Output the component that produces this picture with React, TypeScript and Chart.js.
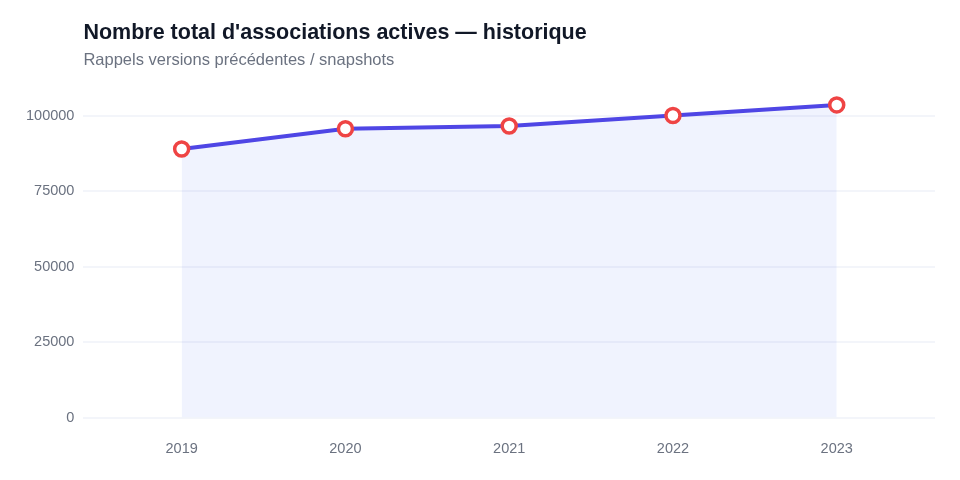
import React, { useEffect, useRef } from "react";
import { Chart, registerables } from "chart.js";

Chart.register(...registerables);

// Active associations, yearly snapshots
const years = [2019, 2020, 2021, 2022, 2023];
const totals = [89000, 95700, 96600, 100100, 103600];
const yTickValues = [0, 25000, 50000, 75000, 100000];

const FONT = "'Liberation Sans', Arial, Helvetica, sans-serif";

export default function App() {
  const canvasRef = useRef<HTMLCanvasElement | null>(null);

  useEffect(() => {
    if (!canvasRef.current) return;
    const chart = new Chart(canvasRef.current, {
      type: "line",
      data: {
        datasets: [
          {
            label: "Associations actives",
            data: years.map((y, i) => ({ x: y, y: totals[i] })),
            borderColor: "#4f46e5",
            borderWidth: 4,
            backgroundColor: "rgba(59,100,246,0.08)",
            fill: "origin",
            tension: 0,
            pointRadius: 7,
            pointHoverRadius: 7,
            pointBorderWidth: 3.5,
            pointBorderColor: "#ef4444",
            pointBackgroundColor: "#ffffff",
          },
        ],
      },
      options: {
        animation: false,
        responsive: false,
        maintainAspectRatio: false,
        layout: { padding: { top: 20, left: 17, right: 25, bottom: 7 } },
        plugins: {
          legend: { display: false },
          tooltip: { enabled: false },
          title: {
            display: true,
            text: "Nombre total d'associations actives — historique",
            align: "start",
            fullSize: false,
            color: "#111827",
            font: { family: FONT, size: 21.5, weight: "bold" },
            padding: { top: 0, bottom: 5 },
          },
          subtitle: {
            display: true,
            text: "Rappels versions précédentes / snapshots",
            align: "start",
            fullSize: false,
            color: "#6b7280",
            font: { family: FONT, size: 16.5 },
            padding: { top: 0, bottom: 15 },
          },
        },
        scales: {
          x: {
            type: "linear",
            min: 2018.4,
            max: 2023.6,
            afterBuildTicks: (scale: any) => {
              scale.ticks = years.map((v) => ({ value: v }));
            },
            ticks: {
              color: "#6b7280",
              font: { family: FONT, size: 14.5 },
              padding: 15,
              callback: (v: any) => String(v),
            },
            grid: { display: false },
            border: { display: false },
          },
          y: {
            min: 0,
            max: 110000,
            afterBuildTicks: (scale: any) => {
              scale.ticks = yTickValues.map((v) => ({ value: v }));
            },
            ticks: {
              color: "#6b7280",
              font: { family: FONT, size: 14.5 },
              padding: 9,
              callback: (v: any) => String(v),
            },
            grid: { color: "#f3f5fa", lineWidth: 2, drawTicks: false },
            border: { display: false },
          },
        },
      },
    });
    return () => chart.destroy();
  }, []);

  return (
    <div style={{ position: "absolute", left: 0, top: 0, width: 960, height: 480, background: "#ffffff" }}>
      <canvas ref={canvasRef} width={960} height={480} />
    </div>
  );
}
